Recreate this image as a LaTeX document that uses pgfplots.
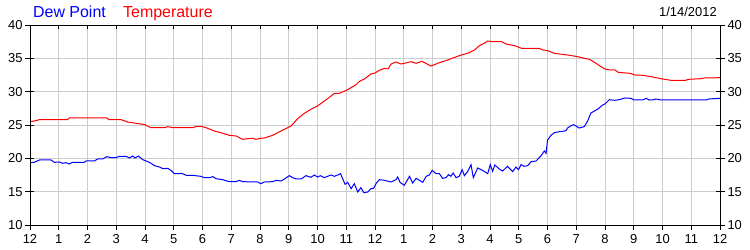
\documentclass[border=0pt]{standalone}
\usepackage{pgfplots}
\pgfplotsset{compat=1.18}
\usepackage{fontspec}
\setmainfont{Liberation Sans}
\definecolor{gridgray}{RGB}{204,204,204}
\begin{document}
\begin{tikzpicture}
\pgfplotsset{
  base/.style={
    scale only axis, width=690bp, height=200bp,
    at={(30bp,25bp)}, anchor=south west,
    xmin=0, xmax=24, ymin=10, ymax=40,
    xtick={0,1,...,24}, ytick={10,15,...,40},
    axis line style={black, line width=0.9bp},
    tick style={black, line width=0.8bp},
    major tick length=5bp,
    tick label style={font=\fontsize{13}{13}\selectfont},
    /pgf/number format/assume math mode=true,
  }
}
\begin{axis}[base,
  grid=major, grid style={gridgray, line width=0.8bp},
  xtick pos=lower, ytick pos=left, tick align=outside,
  xticklabels={12,1,2,3,4,5,6,7,8,9,10,11,12,1,2,3,4,5,6,7,8,9,10,11,12},
  xticklabel style={yshift=-1bp},
  yticklabel style={xshift=1bp},
]
\addplot[red, line width=1bp] coordinates {
(0,25.5)(0.15,25.6)(0.33,25.8)(1.3,25.8)(1.37,26.05)(2.67,26.05)(2.75,25.8)(3.17,25.8)(3.4,25.45)(3.63,25.3)(4.0,25.05)(4.2,24.6)(4.67,24.6)(4.8,24.75)(4.96,24.6)(5.66,24.6)(5.8,24.8)(5.95,24.8)(6.12,24.6)(6.41,24.1)(6.64,23.85)(6.93,23.45)(7.17,23.35)(7.4,22.85)(7.57,22.95)(7.75,23.0)(7.86,22.85)(8.0,23.0)(8.15,23.05)(8.44,23.45)(8.73,24.1)(9.08,24.85)(9.31,25.95)(9.54,26.75)(9.77,27.35)(10.0,27.85)(10.35,28.95)(10.59,29.75)(10.76,29.75)(11.05,30.3)(11.34,31.05)(11.46,31.55)(11.63,31.9)(11.86,32.65)(12.0,32.8)(12.15,33.2)(12.33,33.5)(12.45,33.4)(12.56,34.15)(12.73,34.45)(12.9,34.15)(13.02,34.25)(13.25,34.5)(13.43,34.25)(13.63,34.55)(13.95,33.85)(14.24,34.35)(14.53,34.75)(14.93,35.4)(15.28,35.85)(15.46,36.25)(15.63,36.9)(15.8,37.25)(15.92,37.6)(16.1,37.5)(16.4,37.5)(16.6,37.1)(16.85,36.9)(17.1,36.5)(17.7,36.5)(17.85,36.25)(18.0,36.15)(18.24,35.75)(18.7,35.5)(19.05,35.25)(19.28,35.0)(19.46,34.85)(19.69,34.25)(19.86,33.75)(20.0,33.4)(20.17,33.25)(20.35,33.25)(20.46,32.9)(20.87,32.75)(21.04,32.5)(21.33,32.45)(21.6,32.25)(22.0,31.9)(22.3,31.7)(22.8,31.7)(22.9,31.85)(23.35,31.95)(23.45,32.05)(24.0,32.1)
};
\addplot[blue, line width=1bp] coordinates {
(0,19.35)(0.15,19.4)(0.33,19.75)(0.73,19.75)(0.85,19.4)(1.02,19.45)(1.14,19.25)(1.25,19.35)(1.37,19.15)(1.48,19.4)(1.89,19.4)(1.95,19.6)(2.24,19.6)(2.35,19.9)(2.53,19.9)(2.67,20.25)(2.82,20.1)(2.99,20.1)(3.1,20.3)(3.34,20.3)(3.46,20.05)(3.57,20.35)(3.65,20.05)(3.77,20.35)(3.92,19.8)(4.1,19.5)(4.21,19.25)(4.33,18.9)(4.5,18.7)(4.62,18.45)(4.79,18.5)(4.9,18.2)(5.02,17.7)(5.31,17.7)(5.43,17.45)(5.66,17.45)(5.95,17.3)(6.06,17.1)(6.24,17.1)(6.36,17.25)(6.47,16.95)(6.7,16.8)(6.93,16.5)(7.17,16.5)(7.28,16.7)(7.4,16.5)(7.92,16.45)(8.03,16.2)(8.15,16.45)(8.44,16.5)(8.56,16.7)(8.73,16.6)(8.85,16.9)(9.02,17.4)(9.14,17.1)(9.26,16.9)(9.43,16.9)(9.6,17.4)(9.77,17.15)(9.89,17.5)(10.0,17.2)(10.1,17.4)(10.24,17.1)(10.35,17.3)(10.47,17.5)(10.59,17.3)(10.7,17.5)(10.8,17.7)(10.88,16.9)(10.96,16.1)(11.05,16.4)(11.17,15.45)(11.28,16.2)(11.4,14.95)(11.51,15.6)(11.61,14.85)(11.75,14.95)(11.86,15.45)(11.95,15.5)(12.05,16.3)(12.15,16.8)(12.33,16.7)(12.56,16.45)(12.73,16.8)(12.79,17.2)(12.87,16.4)(13.02,15.95)(13.2,17.3)(13.31,16.3)(13.43,17.0)(13.55,16.7)(13.66,16.4)(13.78,17.3)(13.89,17.5)(13.99,18.2)(14.12,17.7)(14.24,17.7)(14.35,17.0)(14.47,17.1)(14.56,17.55)(14.64,17.3)(14.72,17.8)(14.82,17.1)(14.93,17.3)(15.03,18.3)(15.11,17.4)(15.22,18.0)(15.34,19.05)(15.42,17.1)(15.57,18.55)(15.74,18.2)(15.92,17.7)(16.01,19.05)(16.09,18.05)(16.17,19.0)(16.32,18.4)(16.44,18.1)(16.61,18.8)(16.79,18.0)(16.9,18.7)(16.99,18.3)(17.08,19.05)(17.19,18.8)(17.31,18.9)(17.43,19.5)(17.6,19.6)(17.77,20.35)(17.89,21.1)(17.95,20.75)(18.0,22.7)(18.12,23.45)(18.24,23.85)(18.35,23.95)(18.53,24.05)(18.64,24.15)(18.7,24.55)(18.82,24.9)(18.91,25.05)(18.99,24.85)(19.1,24.55)(19.28,24.75)(19.4,25.65)(19.51,26.8)(19.63,27.1)(19.74,27.35)(19.92,28.0)(20.01,28.2)(20.15,28.8)(20.33,28.7)(20.5,28.8)(20.68,29.05)(20.9,29.0)(21.02,28.75)(21.31,28.75)(21.43,29.0)(21.54,28.75)(21.72,28.8)(21.77,28.9)(21.95,28.75)(23.52,28.75)(23.61,28.9)(24.0,29.0)
};
\end{axis}
\begin{axis}[base,
  xtick pos=upper, ytick pos=both, tick align=inside,
  xticklabels={}, yticklabels={}, major tick length=4bp,
]
\end{axis}
\begin{axis}[base,
  xtick=\empty, ytick pos=right, yticklabel pos=right, tick align=outside,
  yticklabel style={xshift=-1bp},
]
\end{axis}
\node[anchor=base west, blue, font=\fontsize{16}{16}\selectfont, inner sep=0pt] at (33bp,232bp) {Dew Point};
\node[anchor=base west, red, font=\fontsize{16}{16}\selectfont, inner sep=0pt] at (123bp,232bp) {Temperature};
\node[anchor=base east, black, font=\fontsize{13}{13}\selectfont, inner sep=0pt] at (717bp,233bp) {1/14/2012};
\pgfresetboundingbox
\path[use as bounding box] (0,0) rectangle (750bp,250bp);
\end{tikzpicture}
\end{document}
